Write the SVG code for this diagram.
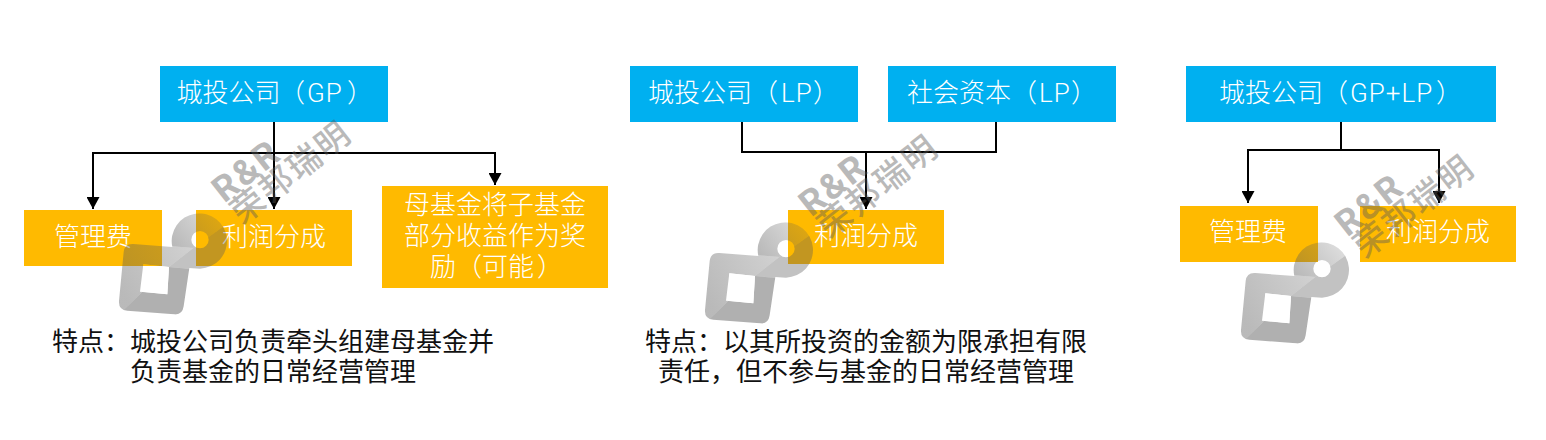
<svg xmlns="http://www.w3.org/2000/svg" width="1546" height="440" viewBox="0 0 1546 440">
<style>
text{font-family:"Noto Sans CJK SC","Noto Sans",sans-serif;font-size:26px;font-weight:300}
.w{fill:#fff}
.k{fill:#111;font-weight:400}
.m{text-anchor:middle}
.l{font-family:Roboto,"Liberation Sans",sans-serif;letter-spacing:1px}
.b{fill:#00B0F0}
.o{fill:#FFBA00}
.c{fill:none;stroke:#000;stroke-width:2}
.a{marker-end:url(#arr)}
.s{fill:#5a5a5a}
.t1{fill:#5a5a5a;opacity:.42;font-size:100px;font-weight:500;letter-spacing:7px}
.t2{fill:#5a5a5a;opacity:.42;font-family:Roboto,"Liberation Sans",sans-serif;font-size:108px;font-weight:700;letter-spacing:6px}
</style>
<defs>
<marker id="arr" markerUnits="userSpaceOnUse" markerWidth="13" markerHeight="13" refX="12" refY="6.5" orient="auto"><path d="M0,0L12,6.5L0,13z" fill="#000"/></marker>
<clipPath id="logoClip"><path clip-rule="evenodd" d="M58,369L175,378A83,83 0 1 1 258,443L226,441L209,556Q205,583 180,580L40,569Q13,566 15,540L29,393Q32,367 58,369ZM88,430L165,438L160,520L78,512ZM232,356a26,26 0 1 0 52,0a26,26 0 1 0 -52,0Z"/></clipPath>
<linearGradient id="ga" gradientUnits="userSpaceOnUse" x1="20" y1="500" x2="235" y2="385"><stop offset="0" stop-color="#5a5a5a" stop-opacity=".42"/><stop offset="1" stop-color="#5a5a5a" stop-opacity=".28"/></linearGradient>
<linearGradient id="gd" gradientUnits="userSpaceOnUse" x1="190" y1="380" x2="300" y2="290"><stop offset="0" stop-color="#5a5a5a" stop-opacity=".42"/><stop offset="1" stop-color="#5a5a5a" stop-opacity=".22"/></linearGradient>
<g id="logo" transform="scale(.3333) translate(-18,-276)">
<g clip-path="url(#logoClip)">
<path fill="url(#ga)" d="M0,360L175,376L238,381L165,438L88,430L85,512L10,585Z"/>
<path class="s" opacity=".48" d="M10,585L85,512L160,520L165,438L240,445V600H0Z"/>
<path class="s" opacity=".37" d="M165,438L238,381L345,305H400V470L240,445Z"/>
<path fill="url(#gd)" d="M175,376L238,381L345,305V250H150V374Z"/>
</g>
</g>
<g id="wmark" transform="scale(.3333) translate(-18,-276)">
<text class="t2" transform="translate(340,210) rotate(-38)" x="-38" y="38">R&amp;R</text>
<text class="t1" transform="translate(405,270) rotate(-38)" x="-50" y="35">荣邦瑞明</text>
</g>
</defs>
<g id="n1"><rect class="b" x="160" y="66" width="228" height="56"/><text class="w" x="176.500" y="102">城投公司<tspan x="279">（</tspan><tspan class="l" x="307">GP</tspan><tspan x="347">）</tspan></text></g>
<g id="n2"><rect class="o" x="24" y="210" width="138" height="56"/><text class="w m" x="93" y="246">管理费</text></g>
<g id="n3"><rect class="o" x="196" y="210" width="156" height="56"/><text class="w m" x="274" y="246">利润分成</text></g>
<g id="n4"><rect class="o" x="382" y="186" width="226" height="102"/><text class="w m" x="495" y="214">母基金将子基金</text><text class="w m" x="495" y="245">部分收益作为奖</text><text class="w" x="430" y="276">励<tspan x="456">（</tspan>可能<tspan x="537">）</tspan></text></g>
<g id="n5"><rect class="b" x="630" y="66" width="228" height="56"/><text class="w" x="648" y="102">城投公司<tspan x="752">（</tspan><tspan class="l" x="781">LP</tspan><tspan x="813">）</tspan></text></g>
<g id="n6"><rect class="b" x="888" y="66" width="228" height="56"/><text class="w" x="907" y="102">社会资本<tspan x="1011">（</tspan><tspan class="l" x="1039">LP</tspan><tspan x="1071">）</tspan></text></g>
<g id="n7"><rect class="o" x="788" y="210" width="156" height="54"/><text class="w m" x="866" y="245">利润分成</text></g>
<g id="n8"><rect class="b" x="1186" y="66" width="310" height="56"/><text class="w" x="1219" y="102">城投公司<tspan x="1322">（</tspan><tspan class="l" x="1350">GP+LP</tspan><tspan x="1436">）</tspan></text></g>
<g id="n9"><rect class="o" x="1180" y="206" width="138" height="56"/><text class="w m" x="1248" y="241">管理费</text></g>
<g id="n10"><rect class="o" x="1360" y="206" width="156" height="56"/><text class="w m" x="1438" y="241">利润分成</text></g>
<g id="connectors">
<path class="c a" d="M274,122V209"/>
<path class="c a" d="M274,153H93V209"/>
<path class="c a" d="M274,153H495V185"/>
<path class="c" d="M742,122V152H996V122"/>
<path class="c a" d="M866,152V209"/>
<path class="c a" d="M1341,122V150H1248V203"/>
<path class="c a" d="M1341,150H1439V203"/>
</g>
<g id="note1"><text class="k" x="52" y="351">特点：城投公司负责牵头组建母基金并</text><text class="k" x="130" y="381">负责基金的日常经营管理</text></g>
<g id="note2"><text class="k m" x="866" y="351">特点：以其所投资的金额为限承担有限</text><text class="k m" x="866" y="381">责任，但不参与基金的日常经营管理</text></g>
<use href="#logo" x="120" y="213"/>
<use href="#wmark" x="119" y="208"/>
<use href="#logo" x="706" y="222"/>
<use href="#wmark" x="706" y="222"/>
<use href="#logo" x="1242" y="242"/>
<use href="#wmark" x="1242" y="242"/>
</svg>
